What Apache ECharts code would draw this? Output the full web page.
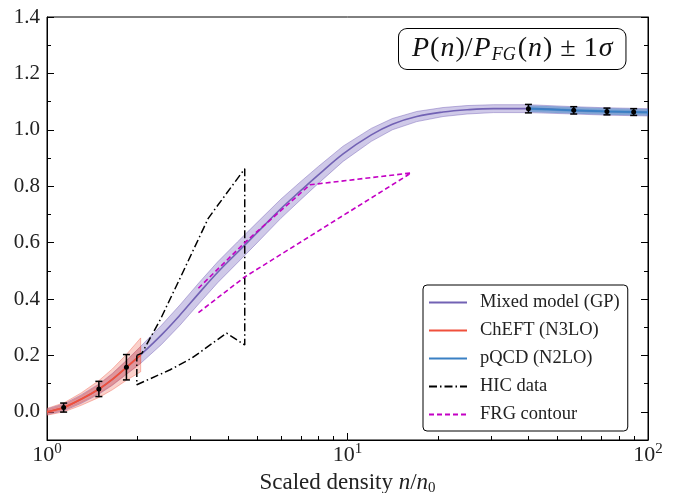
<!DOCTYPE html>
<html><head><meta charset="utf-8">
<script src="https://cdn.jsdelivr.net/npm/echarts@6/dist/echarts.min.js"></script>
<style>html,body{margin:0;padding:0;background:#fff}#c{width:673px;height:493px}</style>
</head><body><div id="c"></div>
<script>
// ---- data ----
const gpN   = [1, 1.14, 1.3, 1.49, 1.65, 1.84, 2.04, 2.4, 2.77, 3.2, 3.7, 4.3, 5.0, 6.0, 7.0, 8.0, 9.67, 12, 14.1, 17, 20.8, 25, 30.6, 40, 56.6, 73, 100];
const gpMid = [0.0, 0.016, 0.045, 0.081, 0.115, 0.158, 0.2, 0.272, 0.343, 0.42, 0.495, 0.565, 0.635, 0.72, 0.785, 0.84, 0.915, 0.982, 1.02, 1.047, 1.063, 1.071, 1.075, 1.075, 1.069, 1.065, 1.062];
const gpSig = [0.01, 0.012, 0.015, 0.018, 0.021, 0.025, 0.03, 0.034, 0.036, 0.037, 0.037, 0.037, 0.036, 0.034, 0.032, 0.03, 0.027, 0.023, 0.02, 0.018, 0.016, 0.015, 0.014, 0.014, 0.013, 0.013, 0.013];

const chN        = [1, 1.14, 1.3, 1.49, 1.65, 1.84, 2.05];
const chMid      = [0.0, 0.016, 0.045, 0.081, 0.115, 0.158, 0.202];
const chSigOuter = [0.012, 0.016, 0.022, 0.03, 0.037, 0.046, 0.06];
const chSigInner = [0.006, 0.008, 0.011, 0.015, 0.019, 0.023, 0.03];

const pqN        = [40, 56.6, 73, 100];
const pqMid      = [1.075, 1.069, 1.065, 1.062];
const pqSigOuter = [0.01, 0.01, 0.01, 0.01];
const pqSigInner = [0.005, 0.005, 0.005, 0.005];

const hicN = [1.99, 2.07, 2.38, 2.77, 3.44, 3.67, 4.55, 4.55, 3.96, 3.03, 2.57, 1.99, 1.99];
const hicP = [0.2, 0.208, 0.326, 0.473, 0.686, 0.727, 0.862, 0.237, 0.279, 0.19, 0.149, 0.096, 0.2];

const frgN = [3.19, 4.55, 7.5, 16.3, 4.55, 3.15];
const frgP = [0.438, 0.6, 0.805, 0.847, 0.478, 0.347];

const errN = [1.136, 1.488, 1.838, 40, 56.6, 73, 89.6];
const errP = [0.015, 0.081, 0.158, 1.075, 1.069, 1.065, 1.063];
const errE = [0.016, 0.027, 0.045, 0.015, 0.013, 0.012, 0.012];

const xMajor = [1, 10, 100];
const xMinor = [2, 3, 4, 5, 6, 7, 8, 9, 20, 30, 40, 50, 60, 70, 80, 90];
const yMajor = [0, 0.2, 0.4, 0.6, 0.8, 1.0, 1.2, 1.4];
const yMinor = [-0.1, 0.1, 0.3, 0.5, 0.7, 0.9, 1.1, 1.3];

const legendNames = ['Mixed model (GP)', 'ChEFT (N3LO)', 'pQCD (N2LO)', 'HIC data', 'FRG contour'];

// ---- styling ----
const FONT = 'Liberation Serif';
const cPurple = '#7262b4', cRed = '#f0503c', cBlue = '#3a80c4', cMag = '#c400c4';

function band(xs, mid, sig, fill, stroke, z) {
  return {
    type: 'custom', silent: true, z: z, clip: true,
    data: xs.map((x, i) => [x, mid[i] - sig[i], mid[i] + sig[i]]),
    encode: { x: 0, y: [1, 2] },
    renderItem: (params, api) => {
      if (params.dataIndex !== 0) return null;
      const up = xs.map((x, i) => api.coord([x, mid[i] + sig[i]]));
      const dn = xs.map((x, i) => api.coord([x, mid[i] - sig[i]])).reverse();
      return { type: 'polygon', shape: { points: up.concat(dn) },
               style: { fill: fill, stroke: stroke, lineWidth: 0.8 } };
    }
  };
}
function line(name, xs, ys, color, type, width, z, smooth) {
  return {
    type: 'line', name: name, z: z, symbol: 'none', smooth: smooth, clip: true,
    data: xs.map((x, i) => [x, ys[i]]),
    lineStyle: { color: color, width: width, type: type },
    itemStyle: { color: color }
  };
}

const chart = echarts.init(document.getElementById('c'), null, { renderer: 'canvas' });
const axCommon = { type: 'log', logBase: 10, min: 1, max: 100, gridIndex: 0, splitLine: { show: false } };
const ayCommon = { type: 'value', min: -0.1, max: 1.4, gridIndex: 0, splitLine: { show: false } };

chart.setOption({
  animation: false,
  backgroundColor: '#fff',
  grid: { left: 47, right: 25, top: 17, bottom: 53, containLabel: false, outerBoundsMode: 'none',
          show: true, borderColor: '#000', borderWidth: 1, backgroundColor: 'transparent' },
  xAxis: [
    Object.assign({}, axCommon, {
      position: 'bottom',
      axisLine: { show: true, onZero: false, lineStyle: { color: '#000', width: 1 } },
      axisTick: { show: true, inside: true, length: 7, customValues: xMajor, lineStyle: { color: '#000' } },
      axisLabel: {
        customValues: xMajor, margin: 2, color: '#222',
        formatter: v => '{b|10}{s|' + Math.round(Math.log10(v)) + '}',
        rich: { b: { fontFamily: FONT, fontSize: 22, color: '#222' },
                s: { fontFamily: FONT, fontSize: 15, color: '#222', padding: [0, 0, 12, 0] } }
      },
      name: 'Scaled density {i|n}/{i|n}{sub|0}', nameLocation: 'middle', nameGap: 27,
      nameTextStyle: { fontFamily: FONT, fontSize: 23, color: '#222',
        rich: { i: { fontFamily: FONT, fontSize: 23, fontStyle: 'italic', color: '#222' },
                sub: { fontFamily: FONT, fontSize: 15, color: '#222', padding: [10, 0, 0, 0] } } }
    }),
    Object.assign({}, axCommon, {
      position: 'bottom',
      axisLine: { show: false, onZero: false },
      axisTick: { show: true, inside: true, length: 4, customValues: xMinor, lineStyle: { color: '#000' } },
      axisLabel: { show: false }
    })
  ],
  yAxis: [
    Object.assign({}, ayCommon, {
      position: 'left',
      axisLine: { show: true, onZero: false, lineStyle: { color: '#000' } },
      axisTick: { show: true, inside: true, length: 7, customValues: yMajor, lineStyle: { color: '#000' } },
      axisLabel: { customValues: yMajor, margin: 7, fontFamily: FONT, fontSize: 21, color: '#222',
                   formatter: v => v.toFixed(1) }
    }),
    Object.assign({}, ayCommon, {
      position: 'left', axisLine: { show: false, onZero: false },
      axisTick: { show: true, inside: true, length: 4, customValues: yMinor, lineStyle: { color: '#000' } },
      axisLabel: { show: false }
    }),
    Object.assign({}, ayCommon, {
      position: 'right', axisLine: { show: true, onZero: false, lineStyle: { color: '#000' } },
      axisTick: { show: true, inside: true, length: 7, customValues: yMajor, lineStyle: { color: '#000' } },
      axisLabel: { show: false }
    }),
    Object.assign({}, ayCommon, {
      position: 'right', axisLine: { show: false, onZero: false },
      axisTick: { show: true, inside: true, length: 4, customValues: yMinor, lineStyle: { color: '#000' } },
      axisLabel: { show: false }
    })
  ],
  legend: {
    data: legendNames, orient: 'vertical', left: 423, top: 285,
    padding: [8, 8, 7, 5], itemGap: 9, itemWidth: 38, itemHeight: 14,
    backgroundColor: '#fff', borderColor: '#000', borderWidth: 1, borderRadius: 4,
    itemStyle: { opacity: 0 },
    lineStyle: { width: 2 },
    textStyle: { fontFamily: FONT, fontSize: 18.5, color: '#222', lineHeight: 18, padding: [0, 0, 0, 8] },
    selectedMode: false
  },
  graphic: [{
    type: 'text', left: 398, top: 28, z: 100,
    style: {
      text: '{i|P}{r|(}{i|n}{r|)/}{i|P}{s|FG}{r|(}{i|n}{r|)}{op|±}{r|1}{i|σ}',
      backgroundColor: '#fff', borderColor: '#000', borderWidth: 1, borderRadius: 8,
      padding: [5, 12, 5, 12],
      rich: {
        i: { fontFamily: FONT, fontSize: 28, fontStyle: 'italic', fill: '#111', padding: [0, 1, 0, 1] },
        r: { fontFamily: FONT, fontSize: 28, fill: '#111' },
        op: { fontFamily: FONT, fontSize: 28, fill: '#111', padding: [0, 8, 0, 8] },
        s: { fontFamily: FONT, fontSize: 18, fontStyle: 'italic', fill: '#111', padding: [12, 2, 0, 0] }
      }
    }
  }],
  series: [
    band(gpN, gpMid, gpSig, 'rgba(117,100,190,0.35)', 'rgba(110,90,180,0.55)', 1),
    line('Mixed model (GP)', gpN, gpMid, cPurple, 'solid', 1.6, 2, 0.4),
    band(chN, chMid, chSigOuter, 'rgba(240,90,70,0.28)', 'rgba(240,90,70,0.5)', 3),
    band(chN, chMid, chSigInner, 'rgba(240,90,70,0.25)', 'rgba(240,90,70,0.4)', 3),
    line('ChEFT (N3LO)', chN, chMid, cRed, 'solid', 1.8, 4, 0.3),
    band(pqN, pqMid, pqSigOuter, 'rgba(58,128,196,0.35)', 'rgba(58,128,196,0.5)', 3),
    band(pqN, pqMid, pqSigInner, 'rgba(58,128,196,0.3)', 'rgba(58,128,196,0.4)', 3),
    line('pQCD (N2LO)', pqN, pqMid, cBlue, 'solid', 1.8, 4, 0.3),
    line('HIC data', hicN, hicP, '#000', [8, 3, 1.5, 3], 1.5, 5, false),
    line('FRG contour', frgN, frgP, cMag, [5, 3], 1.6, 5, false),
    {
      type: 'custom', z: 10, silent: true,
      data: errN.map((x, i) => [x, errP[i], errE[i]]),
      encode: { x: 0, y: 1 },
      renderItem: (params, api) => {
        const x = api.value(0), y = api.value(1), e = api.value(2);
        const c = api.coord([x, y]), t = api.coord([x, y + e]), b = api.coord([x, y - e]);
        const w = 3.5, st = { stroke: '#000', lineWidth: 1.5 };
        return { type: 'group', children: [
          { type: 'line', shape: { x1: c[0], y1: t[1], x2: c[0], y2: b[1] }, style: st },
          { type: 'line', shape: { x1: c[0] - w, y1: t[1], x2: c[0] + w, y2: t[1] }, style: st },
          { type: 'line', shape: { x1: c[0] - w, y1: b[1], x2: c[0] + w, y2: b[1] }, style: st },
          { type: 'circle', shape: { cx: c[0], cy: c[1], r: 2.5 }, style: { fill: '#000' } }
        ] };
      }
    }
  ]
});
</script>
</body></html>
